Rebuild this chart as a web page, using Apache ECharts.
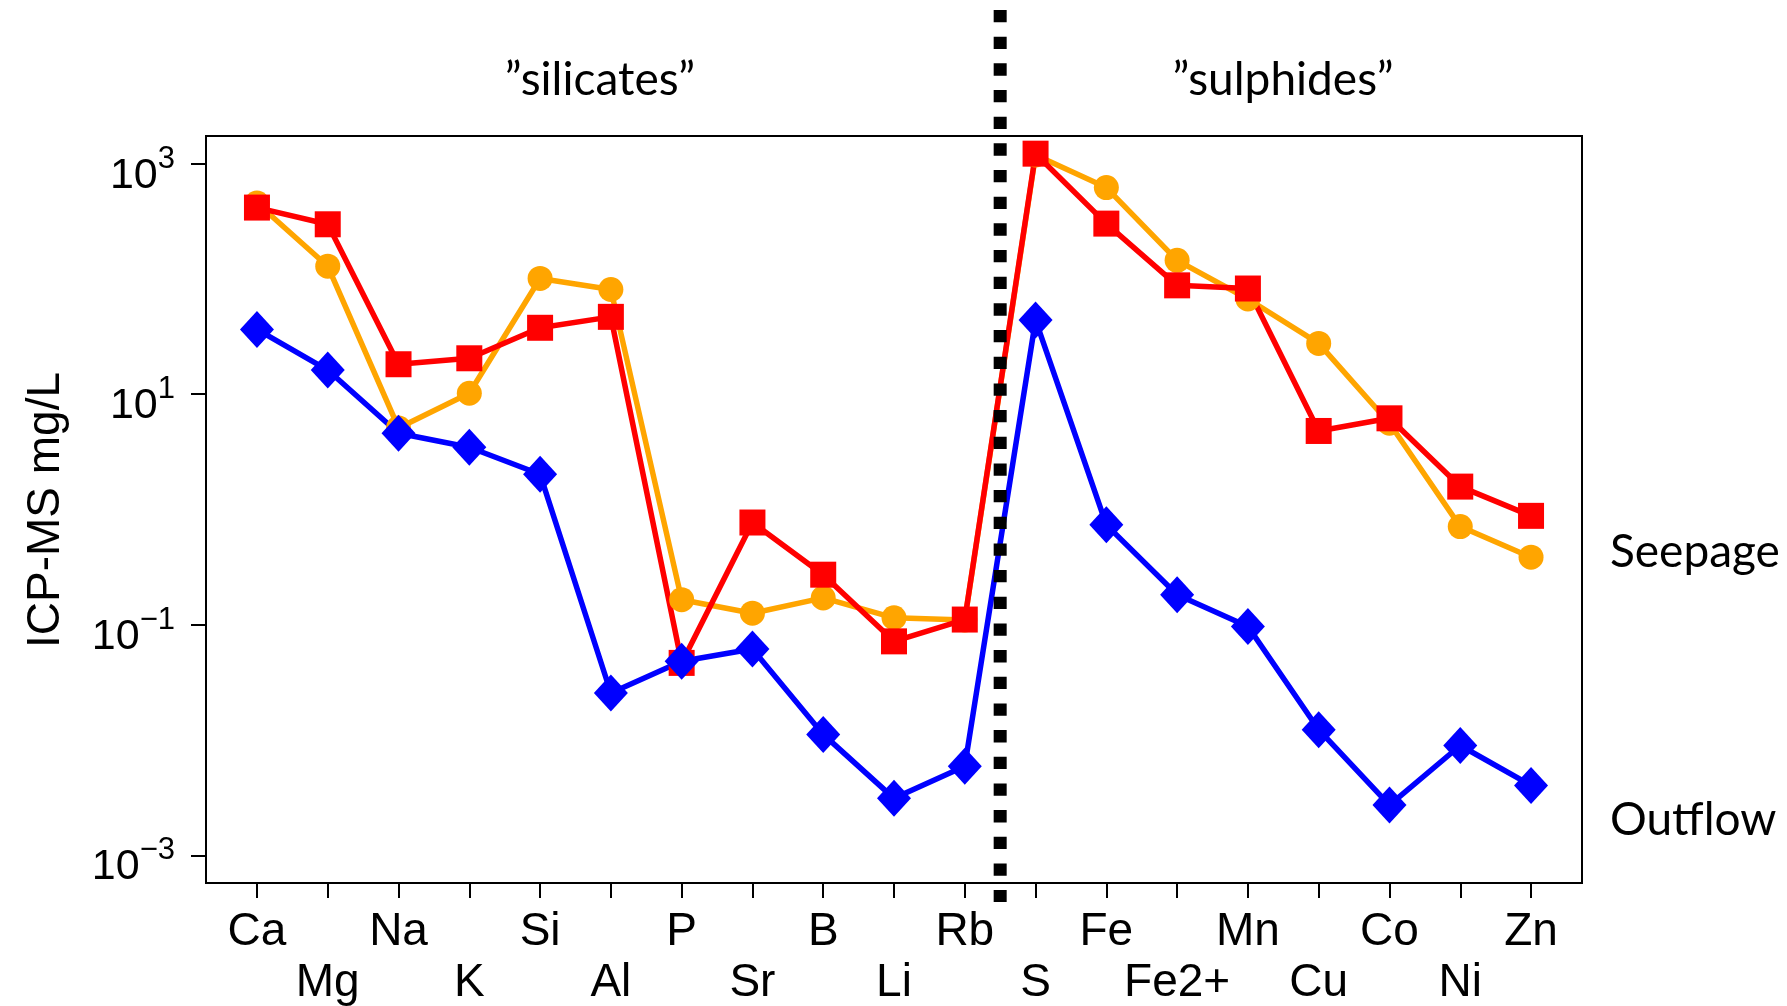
<!DOCTYPE html>
<html>
<head>
<meta charset="utf-8">
<script src="https://cdn.jsdelivr.net/npm/echarts@6/dist/echarts.min.js"></script>
<style>
html,body{margin:0;padding:0;background:#fff;}
#c{width:1787px;height:1006px;}
</style>
</head>
<body>
<div id="c"></div>
<script>
// ---- data ----
const categories = ['Ca','Mg','Na','K','Si','Al','P','Sr','B','Li','Rb','S','Fe','Fe2+','Mn','Cu','Co','Ni','Zn'];
const seepageOrange = [456, 129, 5.1, 10.2, 101, 81, 0.165, 0.126, 0.171, 0.115, 0.110, 1190, 620, 145, 67, 27.6, 5.6, 0.711, 0.386];
const seepageRed    = [416, 298, 18.2, 20.5, 37.7, 46.9, 0.0467, 0.771, 0.272, 0.0718, 0.111, 1221, 302, 88, 82.6, 4.8, 6.18, 1.58, 0.881];
const outflowBlue   = [36.5, 16.2, 4.58, 3.47, 2.02, 0.0256, 0.0482, 0.0617, 0.0112, 0.00312, 0.00594, 44, 0.736, 0.182, 0.0968, 0.0123, 0.00273, 0.00897, 0.00404];
const yTickValues = [0.001, 0.1, 10, 1000];
const groupLabels = ['\u201Dsilicates\u201D', '\u201Dsulphides\u201D'];
const sideLabels = ['Seepage', 'Outflow'];
const yTitle = 'ICP-MS mg/L';
const dividerAt = 10.5; // between Rb and S

const chart = echarts.init(document.getElementById('c'), null, {renderer: 'canvas'});
const toPairs = arr => arr.map((v, i) => [i, v]);
const xTicks = categories.map((_, i) => i);
const supText = e => (e < 0 ? '\u2212' + (-e) : String(e));
const AX = {color: '#000', width: 2};

const mkSeries = (name, data, color, symbol, size) => ({
  name, type: 'line', data: toPairs(data),
  symbol, symbolSize: size, showSymbol: true,
  lineStyle: {color, width: 5.5},
  itemStyle: {color, borderWidth: 0},
  emphasis: {disabled: true},
  clip: false,
  animation: false
});

chart.setOption({
  animation: false,
  backgroundColor: '#fff',
  grid: {left: 206, right: 205, top: 136, bottom: 123, show: true, borderColor: '#000', borderWidth: 2,
         containLabel: false, outerBoundsMode: 'none'},
  xAxis: {
    type: 'value', min: -0.72, max: 18.72,
    axisLine: {show: true, onZero: false, lineStyle: AX},
    splitLine: {show: false},
    axisTick: {show: true, inside: false, length: 15, lineStyle: AX, customValues: xTicks},
    axisLabel: {
      customValues: xTicks,
      formatter: v => { const i = Math.round(v); return i % 2 ? '\n' + categories[i] : categories[i]; },
      fontFamily: 'Liberation Sans', fontSize: 46, lineHeight: 51, color: '#000', margin: 24
    }
  },
  yAxis: {
    type: 'log', logBase: 10, min: Math.pow(10, -3.24), max: Math.pow(10, 3.24),
    axisLine: {show: true, onZero: false, lineStyle: AX},
    splitLine: {show: false},
    minorTick: {show: false},
    axisTick: {show: true, inside: false, length: 15, lineStyle: AX, customValues: yTickValues},
    axisLabel: {
      customValues: yTickValues,
      formatter: v => '{b|10}{s|' + supText(Math.round(Math.log10(v))) + '}',
      margin: 31, padding: [24, 0, 0, 0],
      rich: {
        b: {fontSize: 43, lineHeight: 64, fontFamily: 'Liberation Sans', color: '#000'},
        s: {fontSize: 31, lineHeight: 26, verticalAlign: 'top', fontFamily: 'Liberation Sans', color: '#000'}
      }
    }
  },
  series: [
    mkSeries('Seepage (orange)', seepageOrange, '#FFA500', 'circle', 25),
    mkSeries('Seepage (red)', seepageRed, '#FF0000', 'rect', 26),
    mkSeries('Outflow', outflowBlue, '#0000FF', 'diamond', [34, 37])
  ]
});

const divX = chart.convertToPixel({xAxisIndex: 0}, dividerAt);
const txt = (text, x, y, size, family, align) => ({
  type: 'text', x, y, z: 200,
  style: {text, fontSize: size, fontFamily: family, fill: '#000', align, verticalAlign: 'middle'}
});
chart.setOption({
  graphic: [
    {type: 'line', z: 150, shape: {x1: divX, y1: 10, x2: divX, y2: 902},
     style: {stroke: '#000', lineWidth: 13, lineDash: [12.3, 14.37], lineCap: 'butt'}},
    txt(groupLabels[0], 600, 80, 46, 'Lato', 'center'),
    txt(groupLabels[1], 1283, 80, 46, 'Lato', 'center'),
    txt(sideLabels[0], 1610, 552, 46, 'Lato', 'left'),
    txt(sideLabels[1], 1610, 820, 46, 'Lato', 'left'),
    {type: 'text', x: 46, y: 510, rotation: Math.PI / 2, z: 200,
     style: {text: yTitle, fontSize: 46, fontFamily: 'Liberation Sans', fill: '#000', align: 'center', verticalAlign: 'middle'}}
  ]
});
</script>
</body>
</html>
